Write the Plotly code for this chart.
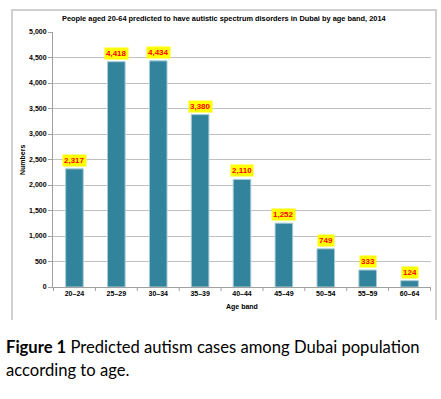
import plotly.graph_objects as go

categories = ["20\u201324", "25\u201329", "30\u201334", "35\u201339", "40\u201344", "45\u201349", "50\u201354", "55\u201359", "60\u201364"]
values = [2317, 4418, 4434, 3380, 2110, 1252, 749, 333, 124]
value_labels = ["2,317", "4,418", "4,434", "3,380", "2,110", "1,252", "749", "333", "124"]
y_ticks = [0, 500, 1000, 1500, 2000, 2500, 3000, 3500, 4000, 4500, 5000]
y_tick_labels = ["0", "500", "1,000", "1,500", "2,000", "2,500", "3,000", "3,500", "4,000", "4,500", "5,000"]

W, H = 441, 399
L, R, T, B = 53, 10, 32, 112
pw = W - L - R
ph = H - T - B

def px(x):
    return (x - L) / pw

def py(y):
    return (H - B - y) / ph

fig = go.Figure()
fig.add_trace(go.Bar(
    x=categories, y=values, width=0.42,
    marker=dict(color="#31849B", line=dict(color="#A9CCD6", width=1)),
    hoverinfo="skip",
))

for c, v, t in zip(categories, values, value_labels):
    fig.add_annotation(
        x=c, y=v, text="<b>" + t + "</b>", showarrow=False,
        yanchor="bottom", yshift=2,
        font=dict(family="Liberation Sans", size=8, color="#FF0000"),
        bgcolor="#FFFF00", borderpad=1,
    )

ann_font = dict(family="Liberation Sans", color="#000000")
fig.add_annotation(
    xref="paper", yref="paper", x=px(224), y=py(19), xanchor="center", yanchor="middle",
    text="<b>People aged 20-64 predicted to have autistic spectrum disorders in Dubai by age band, 2014</b>",
    showarrow=False, font=dict(size=7.4, **ann_font),
)
fig.add_annotation(
    xref="paper", yref="paper", x=px(22), y=py(160), xanchor="center", yanchor="middle",
    text="<b>Numbers</b>", textangle=-90, showarrow=False, font=dict(size=7, **ann_font),
)
fig.add_annotation(
    xref="paper", yref="paper", x=px(242), y=py(307), xanchor="center", yanchor="middle",
    text="<b>Age band</b>", showarrow=False, font=dict(size=7, **ann_font),
)
cap_font = dict(family="Lato", size=16.6, color="#000000")
fig.add_annotation(
    xref="paper", yref="paper", x=px(4), y=py(347), xanchor="left", yanchor="middle",
    text="<b>Figure 1</b> Predicted autism cases among Dubai population",
    showarrow=False, font=cap_font,
)
fig.add_annotation(
    xref="paper", yref="paper", x=px(4), y=py(370), xanchor="left", yanchor="middle",
    text="according to age.", showarrow=False, font=cap_font,
)

border = dict(color="#D0D0D0", width=2)
fig.add_shape(type="line", xref="paper", yref="paper", x0=px(11), x1=px(437), y0=py(10), y1=py(10), line=border)
fig.add_shape(type="line", xref="paper", yref="paper", x0=px(12), x1=px(12), y0=py(10), y1=py(320), line=border)
fig.add_shape(type="line", xref="paper", yref="paper", x0=px(436), x1=px(436), y0=py(10), y1=py(320), line=border)

tick_font = dict(family="Liberation Sans", size=7, color="#000000")
fig.update_layout(
    width=W, height=H,
    margin=dict(l=L, r=R, t=T, b=B, autoexpand=False),
    paper_bgcolor="white", plot_bgcolor="white",
    showlegend=False,
    bargap=0.58,
    xaxis=dict(
        showline=True, linecolor="#A0A0A0", linewidth=1, automargin=False,
        ticks="", tickfont=tick_font, showgrid=False,
        tickprefix="<b>", ticksuffix="</b>",
    ),
    yaxis=dict(
        range=[0, 5000], tickvals=y_ticks, ticktext=["<b>" + s + "</b>" for s in y_tick_labels],
        showline=True, linecolor="#A0A0A0", linewidth=1, automargin=False,
        ticks="outside", ticklen=4, tickcolor="#A0A0A0",
        showgrid=True, gridcolor="#C0C0C0", gridwidth=1,
        tickfont=tick_font, zeroline=False,
    ),
)

# category boundary tick marks below the x axis
for i in range(len(categories) + 1):
    fig.add_shape(type="line", xref="x", yref="paper", x0=i - 0.5, x1=i - 0.5, y0=0, y1=-4 / ph,
                  line=dict(color="#A0A0A0", width=1))

fig.write_html(
    "out.html",
    config={"displayModeBar": False},
    post_script="document.body.style.margin='0';document.body.style.overflow='hidden';",
)
